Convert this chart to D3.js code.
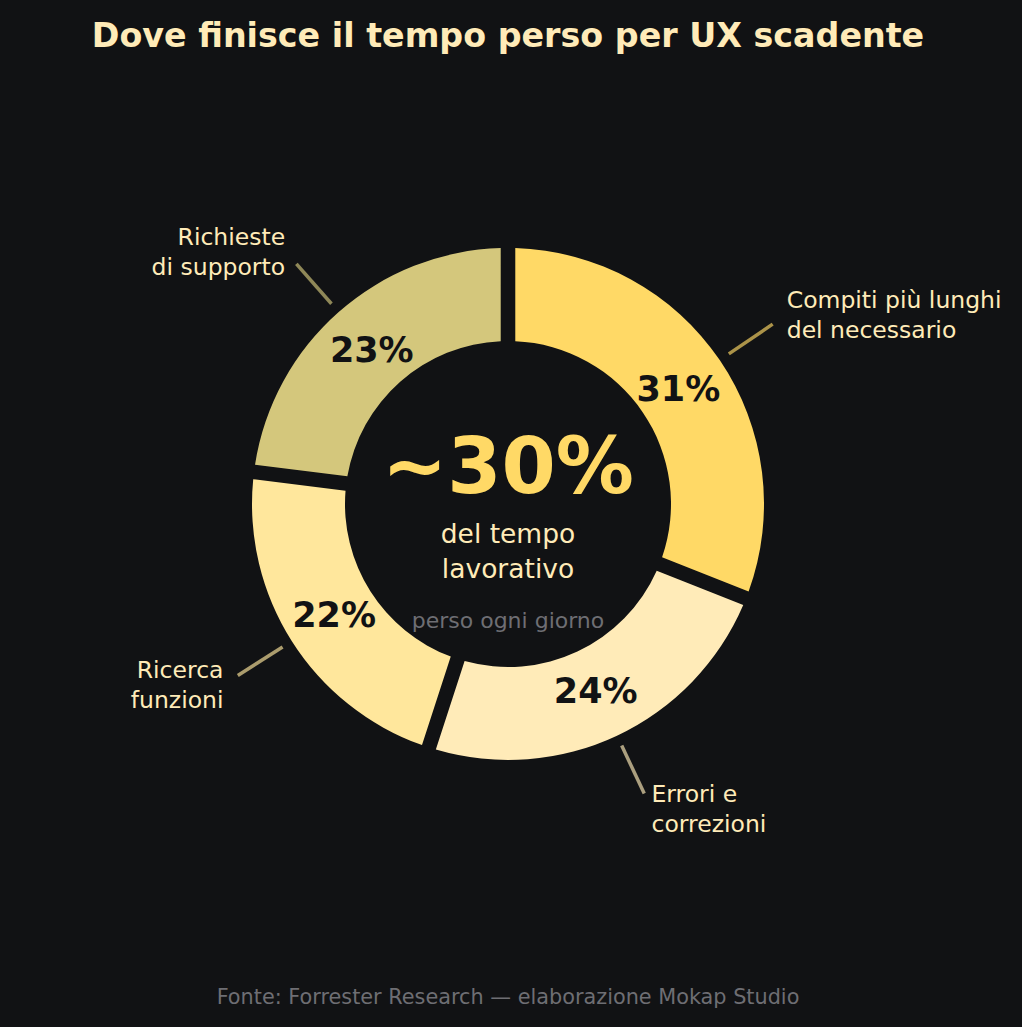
<!DOCTYPE html>
<html>
<head>
<meta charset="utf-8">
<script src="https://cdn.jsdelivr.net/npm/d3@7"></script>
<style>
  html, body { margin: 0; padding: 0; background: #111214; }
  svg { display: block; }
  text { font-family: 'DejaVu Sans', sans-serif; }
</style>
</head>
<body>
<div id="chart"></div>
<script>
// slice data, clockwise from 12 o'clock
const categories = ["Compiti più lunghi\ndel necessario", "Errori e\ncorrezioni", "Ricerca\nfunzioni", "Richieste\ndi supporto"]
const shares = [31, 24, 22, 23]
const sliceColors = ["#FFD966", "#FFEBB8", "#FFE79C", "#D4C77C"]
const centerLines = ["~30%", "del tempo", "lavorativo", "perso ogni giorno"]

const W = 1022, H = 1027
const cx = 508, cy = 504
const outerR = 256, innerR = 163

const svg = d3.select("#chart").append("svg")
    .attr("width", W)
    .attr("height", H)

svg.append("rect").attr("width", W).attr("height", H).attr("fill", "#111214")

svg.append("text")
    .attr("x", W / 2 - 3).attr("y", 35).attr("dy", "0.36em")
    .attr("text-anchor", "middle")
    .attr("fill", "#FFEBB8")
    .style("font-weight", "bold")
    .style("font-size", "33.3px")
    .text("Dove finisce il tempo perso per UX scadente")

const data = categories.map((c, i) => ({ label: c, value: shares[i], color: sliceColors[i] }))

const pie = d3.pie().sort(null).value(d => d.value)
const arcs = pie(data)

const arc = d3.arc()
    .innerRadius(innerR)
    .outerRadius(outerR)
    .padAngle(0.048)

const g = svg.append("g").attr("transform", `translate(${cx},${cy})`)

g.selectAll("path.slice")
    .data(arcs)
    .join("path")
    .attr("class", "slice")
    .attr("d", arc)
    .attr("fill", d => d.data.color)

// point on a given radius at the middle of a slice
const polar = (d, r) => {
    const a = (d.startAngle + d.endAngle) / 2
    return [r * Math.sin(a), -r * Math.cos(a)]
}

g.selectAll("text.pct")
    .data(arcs)
    .join("text")
    .attr("class", "pct")
    .attr("x", d => polar(d, 206)[0])
    .attr("y", d => polar(d, 206)[1])
    .attr("dy", "0.36em")
    .attr("text-anchor", "middle")
    .attr("fill", "#111214")
    .style("font-weight", "bold")
    .style("font-size", "35px")
    .text(d => d.data.value + "%")

// leader lines
g.selectAll("line.leader")
    .data(arcs)
    .join("line")
    .attr("class", "leader")
    .attr("x1", d => polar(d, 267)[0])
    .attr("y1", d => polar(d, 267)[1])
    .attr("x2", d => polar(d, 320)[0])
    .attr("y2", d => polar(d, 320)[1])
    .attr("stroke", d => d.data.color)
    .attr("stroke-opacity", 0.65)
    .attr("stroke-width", 3.5)

const outer = g.selectAll("text.cat")
    .data(arcs)
    .join("text")
    .attr("class", "cat")
    .attr("text-anchor", d => polar(d, 1)[0] > 0 ? "start" : "end")
    .attr("fill", "#FFEBB8")
    .style("font-size", "23.5px")

outer.each(function(d) {
    const [x, y] = polar(d, 337)
    const lines = d.data.label.split("\n")
    d3.select(this).selectAll("tspan")
        .data(lines)
        .join("tspan")
        .attr("x", x)
        .attr("y", (l, i) => y + (i - (lines.length - 1) / 2) * 30)
        .attr("dy", "0.36em")
        .text(l => l)
})

// centre text
g.append("text")
    .attr("y", -39).attr("dy", "0.36em")
    .attr("text-anchor", "middle")
    .attr("fill", "#FFD966")
    .style("font-weight", "bold")
    .style("font-size", "78px")
    .text(centerLines[0])

g.selectAll("text.sub")
    .data(centerLines.slice(1, 3))
    .join("text")
    .attr("class", "sub")
    .attr("y", (d, i) => 29 + i * 35)
    .attr("dy", "0.36em")
    .attr("text-anchor", "middle")
    .attr("fill", "#FFEBB8")
    .style("font-size", "26.5px")
    .text(d => d)

g.append("text")
    .attr("y", 116).attr("dy", "0.36em")
    .attr("text-anchor", "middle")
    .attr("fill", "#6E6E73")
    .style("font-size", "22px")
    .text(centerLines[3])

svg.append("text")
    .attr("x", W / 2 - 3).attr("y", 997).attr("dy", "0.36em")
    .attr("text-anchor", "middle")
    .attr("fill", "#6E6E73")
    .style("font-size", "20.8px")
    .text("Fonte: Forrester Research — elaborazione Mokap Studio")
</script>
</body>
</html>
